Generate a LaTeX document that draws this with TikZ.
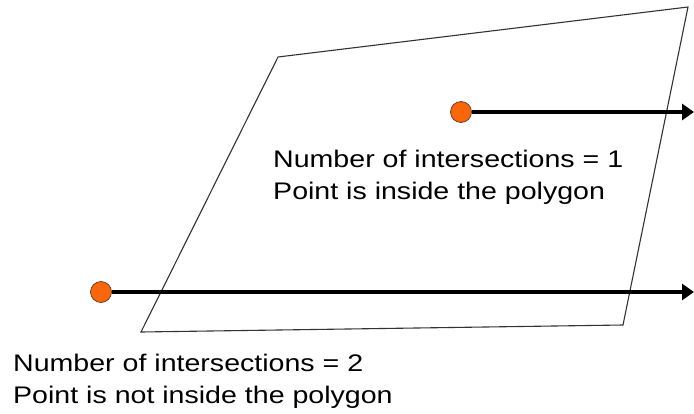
\documentclass[tikz,border=0pt]{standalone}
\usepackage{fontspec}
\setmainfont{Liberation Sans}
\newfontfamily\labelfont[FakeStretch=1.19]{Liberation Sans}
\definecolor{ptorange}{RGB}{250,102,10}
\definecolor{ptedge}{RGB}{90,60,40}
\usetikzlibrary{arrows.meta}

\begin{document}
\begin{tikzpicture}[x=1pt, y=-1pt,
  ray/.style={line width=3.4pt, -{Triangle[length=12pt, width=16pt]}},
  testpt/.style={circle, fill=ptorange, draw=ptedge, line width=0.7pt, minimum size=21pt, inner sep=0pt},
  caption/.style={anchor=base west, align=left, inner sep=0pt, font=\labelfont\fontsize{24}{32}\selectfont}]
\useasboundingbox (0,0) rectangle (694,413);
% polygon
\draw[black!80, line width=1.1pt] (278,57) -- (688,7) -- (623,325) -- (141,332) -- cycle;
% rays
\coordinate (inend) at (694,112);
\coordinate (outend) at (694,292);
\node[testpt] (inpt) at (461,112) {};
\node[testpt] (outpt) at (101,292) {};
\draw[ray] (inpt) -- (inend);
\draw[ray] (outpt) -- (outend);
% labels (anchored on the last line)
\node[caption] (incap) at (273,199) {Number of intersections = 1\\Point is inside the polygon};
\node[caption] (outcap) at (13,403) {Number of intersections = 2\\Point is not inside the polygon};
\end{tikzpicture}
\end{document}
